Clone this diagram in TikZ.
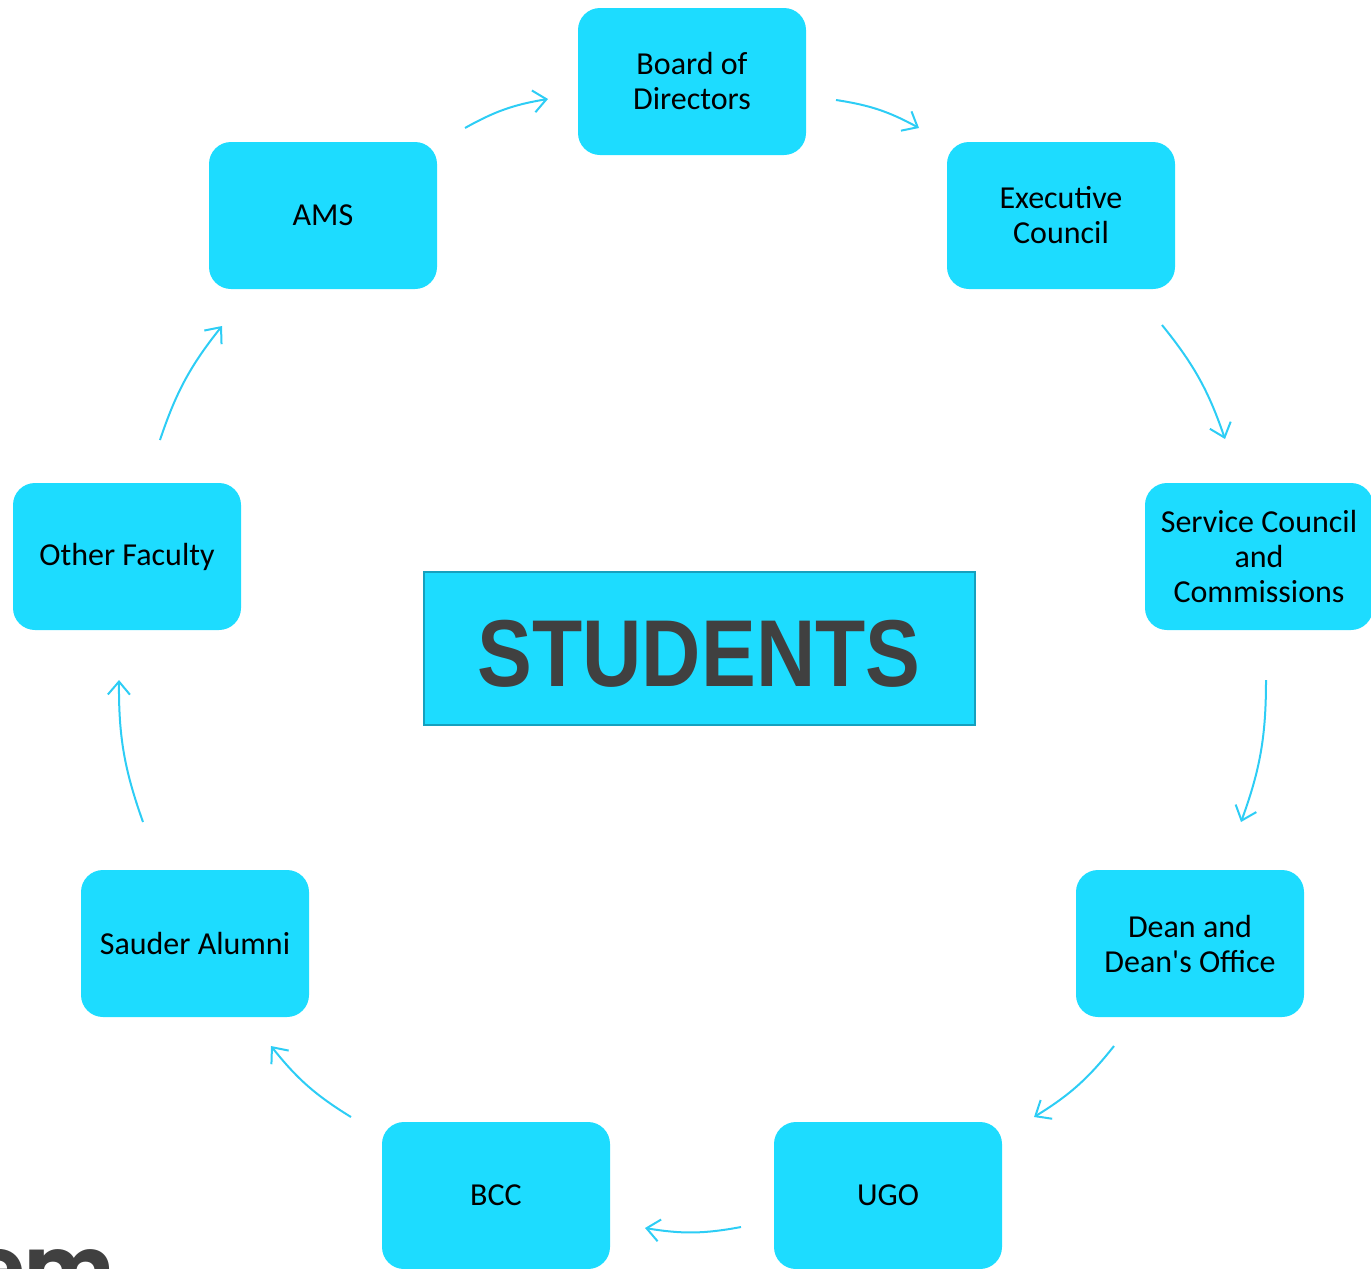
\documentclass[tikz,border=0pt]{standalone}
\usepackage{fontspec}
\setmainfont{Carlito}[Ligatures=TeXOff]
\newfontfamily\studfont{Liberation Sans}
\newfontfamily\emfont{Poppins}
\usetikzlibrary{arrows.meta}
\definecolor{boxcyan}{RGB}{29,220,255}
\definecolor{arrcyan}{RGB}{45,205,245}
\definecolor{studedge}{RGB}{22,160,190}
\definecolor{darkgray}{RGB}{64,64,64}
\tikzset{
  box/.style={rectangle, rounded corners=22pt, fill=boxcyan, minimum width=228pt,
    minimum height=147pt, align=center, inner sep=0pt,
    font=\fontsize{32}{35}\selectfont, text=black},
  flow/.style={draw=arrcyan, line width=2pt, -{Straight Barb[length=13pt,width=22pt,line width=2pt]}, bend left=10},
}
\begin{document}
\begin{tikzpicture}[x=1pt,y=-1pt]
\useasboundingbox (0,0) rectangle (1371,1269);
\clip (0,0) rectangle (1371,1269);
\node[box] (board) at (692,81.5) {Board of\\Directors};
\node[box] (ams) at (323,215.5) {AMS};
\node[box] (exec) at (1061,215.5) {Executive\\Council};
\node[box] (serv) at (1259,556.5) {Service Council\\and\\Commissions};
\node[box] (other) at (127,556.5) {Other Faculty};
\node[box] (sauder) at (195,943.5) {Sauder Alumni};
\node[box] (dean) at (1190,943.5) {Dean and\\Dean's Office};
\node[box] (bcc) at (496,1195.5) {BCC};
\node[box] (ugo) at (888,1195.5) {UGO};
\node[rectangle, draw=studedge, line width=2pt, fill=boxcyan, minimum width=551pt,
  minimum height=153pt, inner sep=0pt] (stud) at (699,648) {};
\node[inner sep=0pt, text=darkgray] (studtext) at ([yshift=-6pt]stud.center)
  {\scalebox{0.865}[1]{\studfont\bfseries\fontsize{95}{100}\selectfont STUDENTS}};
\node[anchor=base west, inner sep=0pt, text=darkgray,
  font=\emfont\bfseries\fontsize{85}{90}\selectfont] (em) at (-28,1297) {em};
% arrow end points
\coordinate (a1s) at (465,128);  \coordinate (a1e) at (548,99);
\coordinate (a2s) at (836,100);  \coordinate (a2e) at (919,128);
\coordinate (a3s) at (1162,325); \coordinate (a3e) at (1225,439);
\coordinate (a4s) at (1266,680); \coordinate (a4e) at (1241,822);
\coordinate (a5s) at (1114,1046);\coordinate (a5e) at (1034,1117);
\coordinate (a6s) at (741,1227); \coordinate (a6e) at (645,1228);
\coordinate (a7s) at (351,1117); \coordinate (a7e) at (271,1046);
\coordinate (a8s) at (143,822);  \coordinate (a8e) at (119,680);
\coordinate (a9s) at (160,440);  \coordinate (a9e) at (222,326);
\draw[flow] (a1s) to (a1e);
\draw[flow] (a2s) to (a2e);
\draw[flow] (a3s) to (a3e);
\draw[flow] (a4s) to (a4e);
\draw[flow] (a5s) to (a5e);
\draw[flow] (a6s) to (a6e);
\draw[flow] (a7s) to (a7e);
\draw[flow] (a8s) to (a8e);
\draw[flow] (a9s) to (a9e);
\end{tikzpicture}
\end{document}
